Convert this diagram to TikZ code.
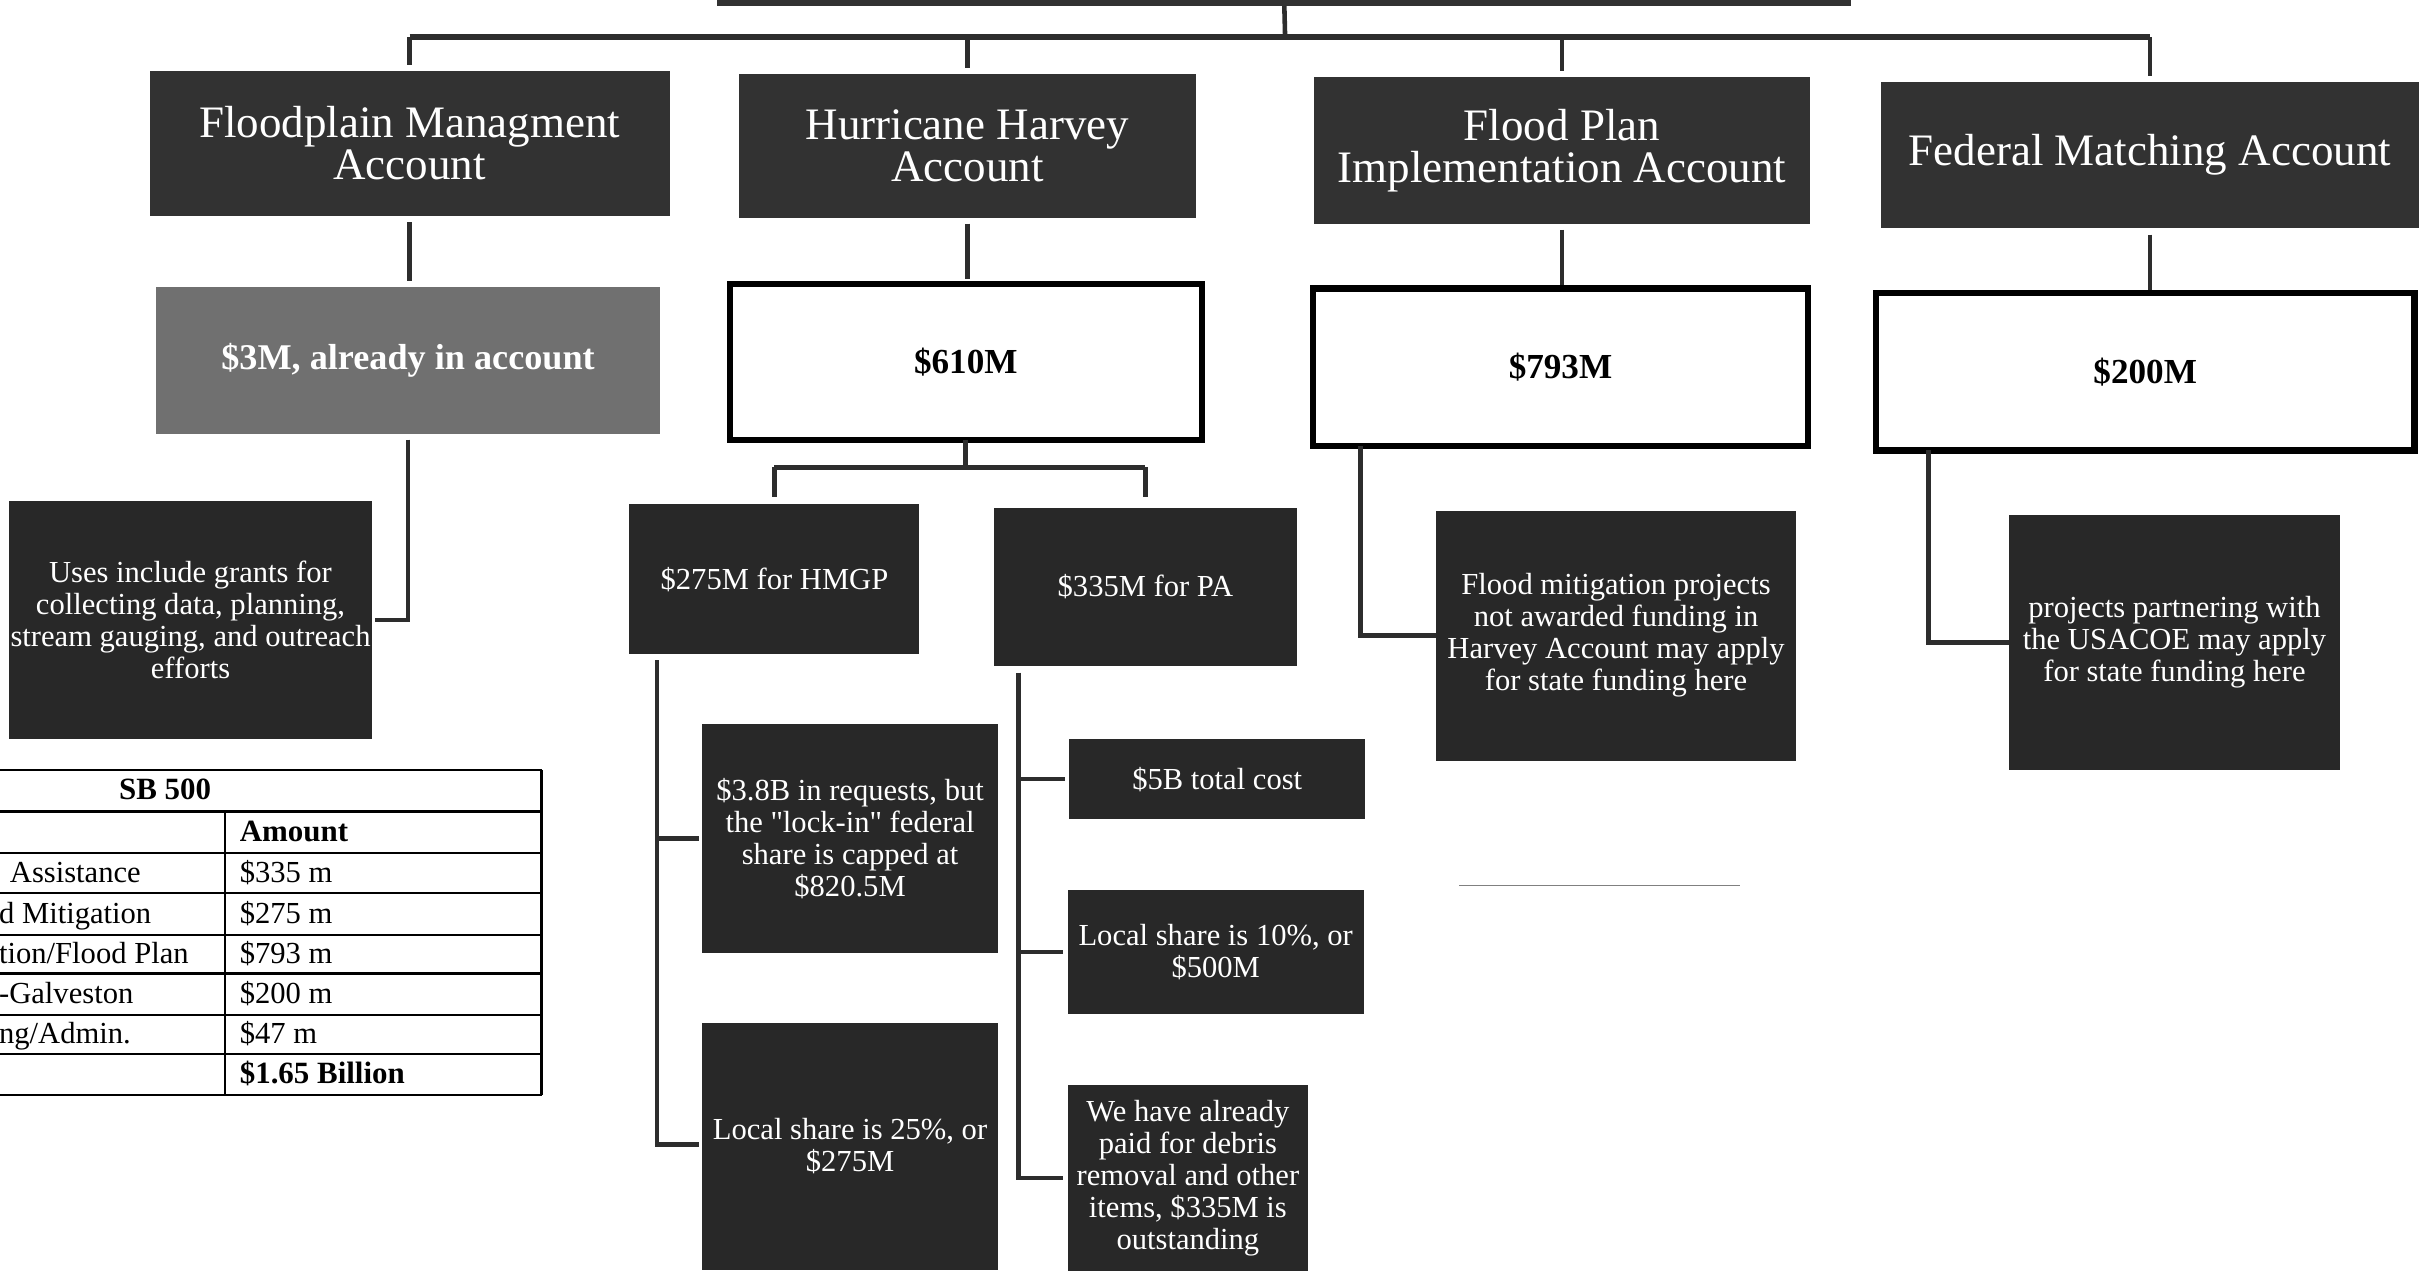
\documentclass[tikz,border=0pt]{standalone}
\usepackage{fontspec}
\setmainfont{Liberation Serif}
\newfontfamily\qfont{Liberation Serif}
\usetikzlibrary{calc}
\definecolor{dk}{RGB}{50,50,50}
\definecolor{dk2}{RGB}{40,40,40}
\definecolor{gr}{RGB}{112,112,112}
\definecolor{ln}{RGB}{45,45,45}
\newcommand\sq{{\qfont"}}
\begin{document}
\begin{tikzpicture}[x=0.015427cm, y=-0.015427cm,
  corners/.style n args={4}{minimum width={(#3-#1)*0.015427cm}, minimum height={(#4-#2)*0.015427cm}, at={({(#1+#3)/2},{(#2+#4)/2})}},
  hdr/.style={fill=dk, draw=none, inner sep=0pt, outer sep=0pt, text=white, align=center, font=\fontsize{12.8}{12}\selectfont},
  valbox/.style={draw=black, line width=1.8pt, fill=white, inner sep=0pt, outer sep=0pt, align=center, font=\fontsize{10}{12}\selectfont\bfseries},
  graybox/.style={fill=gr, inner sep=0pt, outer sep=0pt, text=white, align=center, font=\fontsize{10.3}{12}\selectfont\bfseries},
  note/.style={fill=dk2, inner sep=0pt, outer sep=0pt, text=white, align=center, font=\fontsize{8.7}{9.1}\selectfont},
  conn/.style={draw=ln, line width=1.3pt},
  tline/.style={draw=black, line width=0.6pt},
  ttext/.style={inner sep=0pt, font=\fontsize{8.7}{9}\selectfont, anchor=base west},
  tbold/.style={inner sep=0pt, font=\fontsize{8.8}{9}\selectfont\bfseries, anchor=base west},
]
\useasboundingbox (0,0) rectangle (1568,824);
\clip (0,0) rectangle (1568,824);
\fill[white] (0,0) rectangle (1568,824);

% top box
\node[hdr, corners={465}{-40}{1200}{4}] (top) {};

% headers
\node[hdr, corners={97}{46}{434}{140}] (h1) {Floodplain Managment\\Account};
\node[hdr, corners={479}{48}{775}{141}] (h2) {Hurricane Harvey\\Account};
\node[hdr, corners={852}{50}{1173}{145}] (h3) {Flood Plan\\Implementation Account};
\node[hdr, corners={1219}{53}{1568}{148}] (h4) {Federal Matching Account};

% values
\node[graybox, corners={101}{186}{428}{281}] (v1) {\$3M, already in account};
\node[valbox, corners={473}{184}{779}{285}] (v2) {\$610M};
\node[valbox, corners={851}{187}{1172}{289}] (v3) {\$793M};
\node[valbox, corners={1216}{190}{1565}{292}] (v4) {\$200M};

% notes
\node[note, corners={6}{325}{241}{479}] (n1) {Uses include grants for\\collecting data, planning,\\stream gauging, and outreach\\efforts};
\node[note, corners={408}{327}{596}{424}] (a) {\$275M for HMGP};
\node[note, corners={644}{329}{841}{432}] (b) {\$335M for PA};
\node[note, corners={455}{469}{647}{618}] (a1) {\$3.8B in requests, but\\the \sq lock-in\sq{} federal\\share is capped at\\\$820.5M};
\node[note, corners={455}{663}{647}{823}] (a2) {Local share is 25\%, or\\\$275M};
\node[note, corners={693}{479}{885}{531}] (b1) {\$5B total cost};
\node[note, corners={692}{577}{884}{657}] (b2) {Local share is 10\%, or\\\$500M};
\node[note, corners={692}{703}{848}{824}] (b3) {We have already\\paid for debris\\removal and other\\items, \$335M is\\outstanding};
\node[note, corners={931}{331}{1164}{493}] (n3) {Flood mitigation projects\\not awarded funding in\\Harvey Account may apply\\for state funding here};
\node[note, corners={1302}{334}{1517}{499}] (n4) {projects partnering with\\the USACOE may apply\\for state funding here};

% top bus
\coordinate (bus) at (833,24);
\draw[conn] (top.south) -- (bus);
\draw[conn, line width=1.6pt] (h1.north |- bus) -- (h4.north |- bus);
\foreach \h in {h1,h2,h3,h4} {
  \draw[conn] (\h.north |- bus) -- ($(\h.north)+(0,-4)$);
}
% header to value
\draw[conn] ($(h1.south)+(0,4)$) -- ($(h1.south |- v1.north)+(0,-4)$);
\draw[conn] ($(h2.south)+(0,4)$) -- ($(h2.south |- v2.north)+(0,-3)$);
\draw[conn] ($(h3.south)+(0,4)$) -- ($(h3.south |- v3.north)+(0,-2)$);
\draw[conn] ($(h4.south)+(0,4)$) -- ($(h4.south |- v4.north)+(0,-2)$);

% floodplain
\draw[conn] ($(v1.south)+(0,4)$) |- ($(n1.east)+(2,0)$);

% harvey split
\coordinate (j2) at (626,303);
\draw[conn] (v2.south) -- (j2);
\draw[conn] (a.north |- j2) -- (b.north |- j2);
\draw[conn] (a.north |- j2) -- ($(a.north)+(0,-5)$);
\draw[conn] (b.north |- j2) -- ($(b.north)+(0,-7)$);

% HMGP branch
\coordinate (aT) at (426,428);
\draw[conn] (aT) |- ($(a2.west)+(-2,-1)$);
\draw[conn] (aT |- a1.west) -- ($(a1.west)+(-2,0)$);

% PA branch
\coordinate (bT) at (660,436);
\draw[conn] (bT) |- ($(b3.west)+(-3,0)$);
\draw[conn] (bT |- b1.west) -- ($(b1.west)+(-3,0)$);
\draw[conn] (bT |- b2.west) -- ($(b2.west)+(-3,0)$);

% flood plan and federal
\draw[conn] ($(v3.south west)+(31,0)$) |- (n3.west);
\draw[conn] ($(v4.south west)+(34,0)$) |- (n4.west);

% stray line
\coordinate (s1) at (946,574);
\coordinate (s2) at (1128,574);
\draw[draw=gray, line width=0.5pt] (s1) -- (s2);

% table
\foreach \yy in {499,526,553,579,606,631,658,683,710} {
  \draw[tline] (-5,\yy) -- (351,\yy);
}
\draw[tline] (351,499) -- (351,710);
\draw[tline] (146,526) -- (146,710);
\node[tbold, anchor=base] (t0) at (107,518.5) {SB 500};
\node[tbold] (t1) at (155,545.5) {Amount};
\node[ttext] (t2) at (155,572) {\$335 m};
\node[ttext] (t3) at (155,598.5) {\$275 m};
\node[ttext] (t4) at (155,624.5) {\$793 m};
\node[ttext] (t5) at (155,650.5) {\$200 m};
\node[ttext] (t6) at (155,676.5) {\$47 m};
\node[tbold] (t7) at (155,702.5) {\$1.65 Billion};
\node[ttext] (l1) at (6,572) {Assistance};
\node[ttext] (l2) at (-1,598.5) {d Mitigation};
\node[ttext] (l3) at (-1,624.5) {tion/Flood Plan};
\node[ttext] (l4) at (-1,650.5) {-Galveston};
\node[ttext] (l5) at (-1,676.5) {ng/Admin.};
\end{tikzpicture}
\end{document}
